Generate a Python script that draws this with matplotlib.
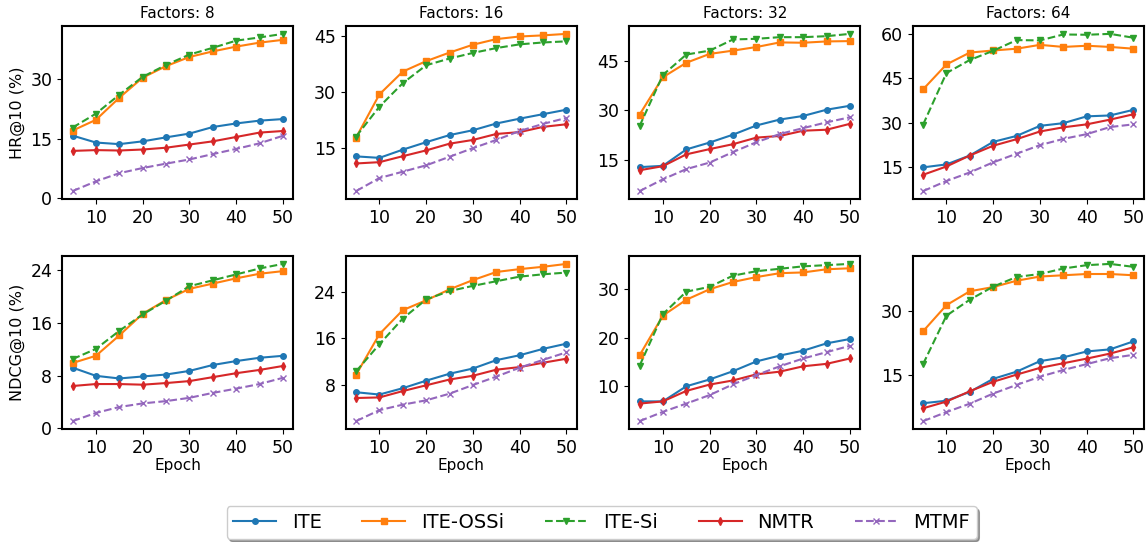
import matplotlib
matplotlib.use("Agg")
import matplotlib.pyplot as plt

epochs = [5, 10, 15, 20, 25, 30, 35, 40, 45, 50]
factors = [8, 16, 32, 64]
methods = ["ITE", "ITE-OSSi", "ITE-Si", "NMTR", "MTMF"]

# HR@10 (%) per factor size
hr_ite = [
    [15.75, 14.0, 13.6, 14.3, 15.3, 16.25, 17.9, 18.8, 19.5, 19.9],
    [12.7, 12.3, 14.5, 16.5, 18.4, 19.7, 21.5, 22.8, 24.0, 25.2],
    [12.7, 13.1, 18.1, 20.2, 22.6, 25.4, 27.2, 28.3, 30.2, 31.4],
    [14.9, 15.9, 18.9, 23.5, 25.5, 28.9, 29.8, 32.1, 32.4, 34.3],
]
hr_ossi = [
    [17.0, 19.7, 25.25, 30.3, 33.2, 35.5, 36.9, 38.1, 39.1, 39.8],
    [17.7, 29.3, 35.4, 38.2, 40.5, 42.6, 44.1, 44.8, 45.1, 45.5],
    [28.7, 40.1, 44.5, 47.2, 48.2, 49.3, 50.7, 50.6, 51.0, 51.1],
    [41.2, 49.6, 53.6, 54.3, 54.9, 56.2, 55.5, 55.9, 55.5, 54.9],
]
hr_si = [
    [17.75, 21.25, 26.0, 30.5, 33.5, 36.1, 37.8, 39.6, 40.4, 41.3],
    [18.0, 26.0, 32.3, 37.1, 38.9, 40.4, 41.7, 42.7, 43.2, 43.5],
    [25.2, 40.8, 47.0, 48.2, 51.6, 51.8, 52.3, 52.3, 52.6, 53.3],
    [29.3, 46.7, 51.1, 54.2, 57.8, 57.7, 59.7, 59.6, 59.9, 58.6],
]
hr_nmtr = [
    [11.9, 12.1, 12.0, 12.25, 12.7, 13.5, 14.3, 15.4, 16.5, 16.9],
    [10.8, 11.15, 12.75, 14.3, 16.1, 17.1, 18.7, 19.2, 20.6, 21.3],
    [11.75, 13.0, 16.6, 18.2, 19.7, 21.7, 22.2, 23.8, 24.1, 25.9],
    [12.4, 15.2, 18.9, 22.2, 24.4, 27.0, 28.4, 29.4, 31.0, 32.8],
]
hr_mtmf = [
    [1.8, 4.25, 6.3, 7.6, 8.7, 9.75, 11.1, 12.4, 13.8, 15.7],
    [3.4, 6.9, 8.6, 10.3, 12.6, 14.9, 17.1, 19.5, 21.4, 23.0],
    [5.4, 9.0, 12.1, 14.1, 17.3, 20.3, 22.8, 24.6, 26.35, 27.9],
    [6.9, 10.3, 13.2, 16.6, 19.5, 22.4, 24.5, 26.1, 28.5, 29.4],
]

# NDCG@10 (%) per factor size
ndcg_ite = [
    [9.2, 7.95, 7.55, 7.85, 8.15, 8.7, 9.6, 10.2, 10.7, 11.0],
    [6.7, 6.3, 7.4, 8.7, 9.9, 10.8, 12.25, 13.1, 14.2, 15.1],
    [6.9, 6.9, 10.0, 11.4, 13.1, 15.1, 16.3, 17.3, 18.8, 19.7],
    [8.2, 8.8, 10.9, 14.0, 15.7, 18.2, 19.1, 20.5, 21.0, 22.9],
]
ndcg_ossi = [
    [9.9, 11.0, 14.1, 17.4, 19.5, 21.2, 22.0, 22.8, 23.5, 23.9],
    [9.7, 16.75, 20.9, 22.6, 24.5, 26.1, 27.5, 28.0, 28.4, 28.9],
    [16.35, 24.5, 27.75, 29.9, 31.4, 32.4, 33.2, 33.35, 34.0, 34.2],
    [25.3, 31.5, 34.8, 35.8, 37.3, 38.3, 38.6, 38.9, 38.9, 38.6],
]
ndcg_si = [
    [10.5, 12.05, 14.8, 17.3, 19.4, 21.6, 22.5, 23.4, 24.3, 25.0],
    [10.3, 15.0, 19.45, 22.75, 24.2, 25.1, 25.9, 26.7, 27.1, 27.4],
    [14.2, 24.8, 29.4, 30.4, 32.7, 33.6, 34.1, 34.6, 34.85, 35.1],
    [17.5, 29.0, 32.8, 35.9, 38.2, 38.9, 40.2, 41.0, 41.3, 40.6],
]
ndcg_nmtr = [
    [6.4, 6.7, 6.7, 6.6, 6.85, 7.15, 7.75, 8.35, 8.85, 9.45],
    [5.7, 5.8, 6.9, 7.9, 8.9, 9.55, 10.6, 11.05, 11.8, 12.5],
    [6.45, 6.9, 9.05, 10.35, 11.2, 12.45, 13.0, 14.1, 14.6, 15.7],
    [7.0, 8.6, 11.05, 13.3, 15.0, 16.6, 17.7, 18.8, 20.0, 21.5],
]
ndcg_mtmf = [
    [1.05, 2.3, 3.2, 3.75, 4.1, 4.6, 5.35, 6.0, 6.7, 7.65],
    [1.7, 3.6, 4.55, 5.3, 6.45, 7.95, 9.4, 10.95, 12.3, 13.6],
    [2.85, 4.75, 6.45, 8.2, 10.4, 12.3, 14.1, 15.7, 17.0, 18.3],
    [3.95, 6.1, 8.1, 10.5, 12.55, 14.5, 16.1, 17.5, 18.9, 19.7],
]

hr_ticks = [[0, 15, 30], [15, 30, 45], [15, 30, 45], [15, 30, 45, 60]]
ndcg_ticks = [[0, 8, 16, 24], [8, 16, 24], [10, 20, 30], [15, 30]]

styles = [
    dict(color="C0", marker="o", linestyle="-"),
    dict(color="C1", marker="s", linestyle="-"),
    dict(color="C2", marker="v", linestyle="--"),
    dict(color="C3", marker="d", linestyle="-"),
    dict(color="C4", marker="x", linestyle="--"),
]

hr_all = [hr_ite, hr_ossi, hr_si, hr_nmtr, hr_mtmf]
ndcg_all = [ndcg_ite, ndcg_ossi, ndcg_si, ndcg_nmtr, ndcg_mtmf]

fig, axes = plt.subplots(2, 4, figsize=(11.48, 5.42), dpi=100)
fig.subplots_adjust(left=0.054, right=0.9965, top=0.952, bottom=0.2085,
                    wspace=0.225, hspace=0.33)

for col, fac in enumerate(factors):
    ax_hr = axes[0, col]
    ax_nd = axes[1, col]
    for m, name in enumerate(methods):
        ax_hr.plot(epochs, hr_all[m][col], label=name, markersize=4,
                   linewidth=1.5, **styles[m])
        ax_nd.plot(epochs, ndcg_all[m][col], label=name, markersize=4,
                   linewidth=1.5, **styles[m])

    ax_hr.set_title(f"Factors: {fac}", fontsize=11)
    ax_hr.set_yticks(hr_ticks[col])
    ax_nd.set_yticks(ndcg_ticks[col])
    ax_nd.set_xlabel("Epoch", fontsize=11, labelpad=1)

    for ax in (ax_hr, ax_nd):
        ax.set_xticks([10, 20, 30, 40, 50])
        ax.tick_params(labelsize=12.5)
        for sp in ax.spines.values():
            sp.set_linewidth(1.5)

axes[0, 0].set_ylabel("HR@10 (%)", fontsize=11.5)
axes[1, 0].set_ylabel("NDCG@10 (%)", fontsize=11.5)

handles, labels = axes[0, 0].get_legend_handles_labels()
fig.legend(handles, labels, loc="lower center", bbox_to_anchor=(0.524, -0.012),
           ncol=5, fontsize=14, shadow=True, handlelength=2.2,
           columnspacing=2.1, fancybox=True, borderpad=0.35)

fig.savefig("out.png", dpi=100)
